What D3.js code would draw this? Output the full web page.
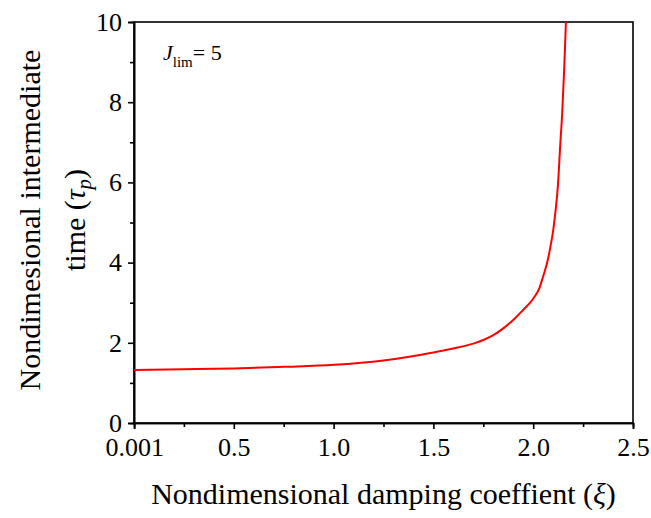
<!DOCTYPE html>
<html><head><meta charset="utf-8">
<script src="https://cdn.jsdelivr.net/npm/d3@7"></script>
<style>body{margin:0;background:#fff}svg{display:block}text{font-family:"Liberation Serif","Times New Roman",serif;fill:#000}</style>
</head><body>
<script>
const xiValues  = [0.001, 0.25, 0.5, 0.75, 1.0, 1.25, 1.5, 1.6, 1.7, 1.75, 1.8, 1.85, 1.9, 1.95, 2.0, 2.03, 2.05, 2.07, 2.085, 2.1, 2.11, 2.125, 2.135, 2.145, 2.155, 2.164];
const tauValues = [1.32, 1.34, 1.36, 1.40, 1.45, 1.56, 1.76, 1.86, 1.98, 2.07, 2.19, 2.36, 2.57, 2.82, 3.1, 3.35, 3.66, 4.0, 4.36, 4.8, 5.2, 6.0, 6.9, 7.7, 8.8, 10.0];
const xTickValues = [0.001, 0.5, 1.0, 1.5, 2.0, 2.5];
const xTickLabels = ["0.001", "0.5", "1.0", "1.5", "2.0", "2.5"];
const yTickValues = [0, 2, 4, 6, 8, 10];

const W = 651, H = 518;
const m = {left:134, right:633, top:22, bottom:423};
const svg = d3.select("body").append("svg").attr("width", W).attr("height", H);
const x = d3.scaleLinear().domain([0, 2.5]).range([m.left, m.right]);
const y = d3.scaleLinear().domain([0, 10]).range([m.bottom, m.top]);

// frame
svg.append("rect").attr("x", m.left).attr("y", m.top).attr("width", m.right-m.left).attr("height", m.bottom-m.top)
  .attr("fill", "none").attr("stroke", "#000").attr("stroke-width", 1.6);

// minor ticks
const xMinor = [0.25, 0.75, 1.25, 1.75, 2.25];
const yMinor = [1,3,5,7,9];
const gx = svg.append("g").attr("transform", `translate(0,${m.bottom})`)
  .call(d3.axisBottom(x).tickValues(xMinor).tickSize(4).tickFormat(""));
const gy = svg.append("g").attr("transform", `translate(${m.left},0)`)
  .call(d3.axisLeft(y).tickValues(yMinor).tickSize(4).tickFormat(""));
// major ticks
const gx2 = svg.append("g").attr("transform", `translate(0,${m.bottom})`)
  .call(d3.axisBottom(x).tickValues(xTickValues).tickSize(6).tickPadding(9).tickFormat((d,i)=>xTickLabels[i]));
const gy2 = svg.append("g").attr("transform", `translate(${m.left},0)`)
  .call(d3.axisLeft(y).tickValues(yTickValues).tickSize(6).tickPadding(6).tickFormat(d3.format("d")));
[gx,gy,gx2,gy2].forEach(g => {
  g.attr("font-size", 26).attr("font-family", "Liberation Serif");
  g.select(".domain").attr("stroke", "#000").attr("stroke-width", 1.6);
  g.selectAll(".tick line").attr("stroke", "#000").attr("stroke-width", 1.6);
  g.selectAll(".tick text").attr("font-size", 26).attr("font-family", "Liberation Serif");
});

// curve
const data = xiValues.map((v,i)=>[v, tauValues[i]]);
svg.append("path").datum(data)
  .attr("d", d3.line().curve(d3.curveMonotoneX).x(d=>x(d[0])).y(d=>y(d[1])))
  .attr("fill", "none").attr("stroke", "#ff0000").attr("stroke-width", 2);

// annotation
const ann = svg.append("text").attr("x", 163).attr("y", 60).attr("font-size", 22);
ann.append("tspan").attr("font-style", "italic").text("J");
ann.append("tspan").attr("font-size", 15).attr("dy", 7).text("lim");
ann.append("tspan").attr("dy", -7).text("= 5");

// x title
const xt = svg.append("text").attr("x", (m.left+m.right)/2).attr("y", 504).attr("text-anchor", "middle").attr("font-size", 30);
xt.append("tspan").text("Nondimensional damping coeffient (");
xt.append("tspan").attr("font-style", "italic").text("ξ");
xt.append("tspan").text(")");

// y title
const cy = 220;
svg.append("text").attr("transform", `translate(40,${cy}) rotate(-90)`).attr("text-anchor", "middle").attr("font-size", 30)
  .text("Nondimesional intermediate");
const yt = svg.append("text").attr("transform", `translate(85,${cy}) rotate(-90)`).attr("text-anchor", "middle").attr("font-size", 30);
yt.append("tspan").text("time (");
yt.append("tspan").attr("font-style", "italic").text("τ");
yt.append("tspan").attr("font-style", "italic").attr("font-size", 21).attr("dy", 6).text("p");
yt.append("tspan").attr("dy", -6).text(")");
</script>
</body></html>
